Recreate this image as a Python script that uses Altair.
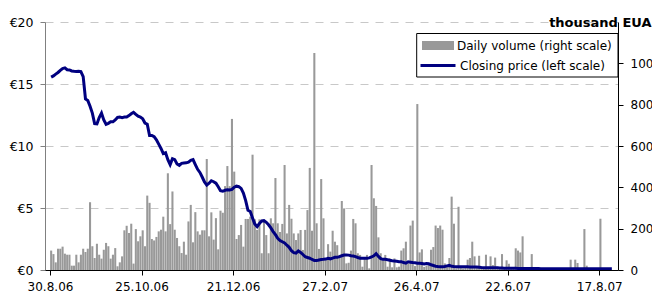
import altair as alt
import pandas as pd

FONT = "DejaVu Sans"

tick_labels = ["30.8.06", "25.10.06", "21.12.06", "27.2.07", "26.4.07", "22.6.07", "17.8.07"]
vol_label = "Daily volume (right scale)"
price_label = "Closing price (left scale)"

# daily volume, thousand EUA (one value per trading day)
volume = [
    94, 77, 37, 103, 103, 113, 79, 74, 74, 21, 21, 74, 37, 74, 103, 87, 103, 328, 115, 58,
    127, 74, 55, 98, 131, 115, 55, 74, 106, 18, 37, 66, 192, 214, 179, 224, 31, 198, 139, 163,
    192, 115, 360, 325, 150, 143, 160, 187, 195, 258, 187, 468, 222, 380, 195, 155, 115, 82, 137, 74,
    235, 315, 134, 280, 187, 171, 192, 192, 537, 163, 279, 147, 251, 100, 287, 277, 406, 503, 406, 731,
    476, 150, 169, 218, 113, 247, 247, 258, 558, 245, 194, 245, 81, 234, 169, 81, 250, 226, 445, 226,
    184, 223, 508, 177, 315, 248, 177, 145, 177, 194, 97, 194, 290, 494, 190, 1050, 226, 102, 440, 250,
    48, 125, 89, 190, 137, 120, 73, 334, 298, 32, 35, 94, 247, 226, 81, 73, 16, 61, 73, 8,
    508, 347, 310, 158, 81, 48, 73, 16, 56, 13, 56, 13, 16, 94, 105, 137, 32, 215, 239, 19,
    803, 85, 100, 15, 20, 34, 98, 111, 215, 203, 215, 195, 32, 24, 58, 355, 224, 8, 306, 16,
    8, 10, 50, 58, 137, 66, 10, 69, 16, 10, 74, 16, 66, 24, 60, 16, 10, 77, 13, 47,
    30, 10, 8, 105, 94, 85, 163, 5, 3, 5, 77, 5, 13, 8, 0, 0, 0, 0, 0, 0,
    0, 0, 0, 0, 0, 0, 0, 50, 5, 50, 34, 0, 0, 198, 21, 0, 0, 0, 0, 0,
    248, 0, 0, 0, 0, 0,
]

# closing price, EUR
price = [
    15.55, 15.65, 15.8, 15.93, 16.1, 16.25, 16.3, 16.15, 16.13, 16.05, 16.02, 16.0, 16.02, 16.0,
    15.6, 13.8, 13.67, 13.2, 12.65, 11.8, 11.78, 12.3, 12.65, 12.1, 11.75, 11.83, 11.95, 11.95,
    12.1, 12.3, 12.33, 12.28, 12.33, 12.33, 12.45, 12.6, 12.72, 12.55, 12.4, 12.33,
    12.2, 11.85, 11.75, 10.85, 10.85, 10.75, 10.5, 10.15, 9.8, 9.38, 9.45, 8.9, 8.5, 8.98, 8.9,
    8.55, 8.44, 8.6, 8.63, 8.64, 8.7, 8.85, 8.9, 8.5, 8.12, 7.87, 7.5, 7.1, 6.85, 7.0, 7.2, 7.12,
    7.0, 6.72, 6.4, 6.35, 6.43, 6.47, 6.45, 6.5,
    6.68, 6.76, 6.72, 6.58, 6.2, 5.6, 4.82, 4.72, 4.2, 3.7, 3.5, 3.75, 3.95, 3.98, 3.85, 3.65,
    3.4, 3.1, 2.85, 2.55, 2.38, 2.28, 2.18, 2.0, 1.83, 1.55, 1.4, 1.36, 1.54, 1.42, 1.25, 1.07,
    1.01, 0.95, 0.85, 0.77, 0.76, 0.81, 0.85, 0.86,
    0.88, 0.94, 0.9, 0.96, 1.02, 1.02, 1.08, 1.15, 1.21, 1.21, 1.2, 1.15, 1.13, 1.08, 1.01, 0.95,
    0.94, 0.94, 0.94, 0.98, 1.05, 1.15, 1.32, 1.1, 0.92, 0.86, 0.86, 0.82, 0.78, 0.75, 0.73, 0.7,
    0.67, 0.67, 0.6, 0.55, 0.66, 0.63, 0.6, 0.58,
    0.55, 0.54, 0.52, 0.48, 0.52, 0.5, 0.42, 0.36, 0.3, 0.28, 0.27, 0.27, 0.28, 0.33, 0.37, 0.3,
    0.28, 0.27, 0.27, 0.26, 0.26, 0.26, 0.26, 0.25, 0.25, 0.25, 0.24, 0.22, 0.2, 0.19, 0.19, 0.19,
    0.19, 0.18, 0.18, 0.18, 0.16, 0.16, 0.15, 0.15,
    0.15, 0.14, 0.14, 0.14, 0.13, 0.13, 0.13, 0.13, 0.12, 0.12, 0.12, 0.12, 0.12, 0.12,
    0.11, 0.11, 0.11, 0.11, 0.11, 0.11, 0.11, 0.11, 0.11, 0.11, 0.11,
    0.1, 0.1, 0.1, 0.1, 0.1, 0.1, 0.1, 0.1, 0.1, 0.1, 0.1, 0.1, 0.1, 0.1, 0.1, 0.1, 0.1, 0.1,
    0.1, 0.1, 0.1,
]

N = len(volume)
df = pd.DataFrame({"idx": list(range(N)), "volume": volume, "price": price})
df["x0"] = df["idx"] + 0.05
df["x1"] = df["idx"] + 0.95
df["xc"] = df["idx"] + 0.5
df["base"] = 0
df["vseries"] = vol_label
df["pseries"] = price_label

label_js = "[" + ",".join("'" + t + "'" for t in tick_labels) + "]"
xscale = alt.Scale(domain=[0, N], nice=False, zero=False)
xaxis = alt.Axis(
    values=[40 * k for k in range(len(tick_labels))],
    labelExpr=label_js + "[round(datum.value / 40)]",
    title=None, grid=False, domainColor="black", tickColor="black",
    tickSize=5, labelPadding=6, labelFontSize=12, labelColor="black",
    labelBaseline="top", labelFlush=False, labelOverlap=False, zindex=1,
)

bars = alt.Chart(df).mark_bar(opacity=1, orient="vertical").encode(
    x=alt.X("x0:Q", scale=xscale, axis=xaxis),
    x2="x1:Q",
    y=alt.Y(
        "volume:Q",
        scale=alt.Scale(domain=[0, 1200], nice=False),
        axis=alt.Axis(
            orient="right", values=[0, 200, 400, 600, 800, 1000], format="d", grid=False,
            domainColor="black", tickColor="black", tickSize=5, labelPadding=7,
            labelFontSize=12, labelColor="black",
            title="thousand EUA", titleAngle=0, titleAlign="right", titleBaseline="alphabetic",
            titleX=33, titleY=4, titleFontSize=13, titleFontWeight="bold", titleColor="black",
        ),
    ),
    y2="base:Q",
    fill=alt.Fill(
        "vseries:N",
        scale=alt.Scale(domain=[vol_label], range=["#999999"]),
        legend=alt.Legend(
            title=None, orient="none", legendX=377, legendY=13.5,
            symbolType="M-1,-0.28H1V0.28H-1Z", symbolSize=1024, symbolStrokeWidth=0,
            clipHeight=20, padding=0, labelOffset=3, labelFont=FONT,
            labelFontSize=12, labelColor="black",
        ),
    ),
)

line = alt.Chart(df).mark_line(strokeWidth=3).encode(
    x=alt.X("xc:Q", scale=xscale, axis=xaxis),
    y=alt.Y(
        "price:Q",
        scale=alt.Scale(domain=[0, 20], nice=False),
        axis=alt.Axis(
            orient="left", values=[0, 5, 10, 15, 20], labelExpr="'€' + datum.value",
            grid=True, gridDash=[8, 7], gridColor="#c8c8c8", gridWidth=1,
            domainColor="#808080", tickColor="#808080", tickSize=5, labelPadding=7,
            labelFontSize=12.5, labelColor="black", title=None,
        ),
    ),
    stroke=alt.Stroke(
        "pseries:N",
        scale=alt.Scale(domain=[price_label], range=["#000080"]),
        legend=alt.Legend(
            title=None, orient="none", legendX=374, legendY=33.5,
            symbolType="stroke", symbolSize=1225, symbolStrokeWidth=3,
            clipHeight=20, padding=0, labelOffset=3, labelFont=FONT,
            labelFontSize=12, labelColor="black",
        ),
    ),
)

box = alt.Chart(alt.Data(values=[{}])).mark_rect(
    fill="white", stroke="black", strokeWidth=1
).encode(
    x=alt.value(371.7), x2=alt.value(573), y=alt.value(11.5), y2=alt.value(55)
)

chart = (
    alt.layer(bars, line, box)
    .resolve_scale(y="independent", fill="independent", stroke="independent")
    .properties(
        width=573, height=248,
        padding={"left": 37, "top": 14, "right": 34, "bottom": 23},
        autosize=alt.AutoSizeParams(type="none"),
    )
    .configure_view(stroke=None)
    .configure_axis(labelFont=FONT, titleFont=FONT)
)

chart.save("out.html", embed_options={"renderer": "svg", "actions": False})
